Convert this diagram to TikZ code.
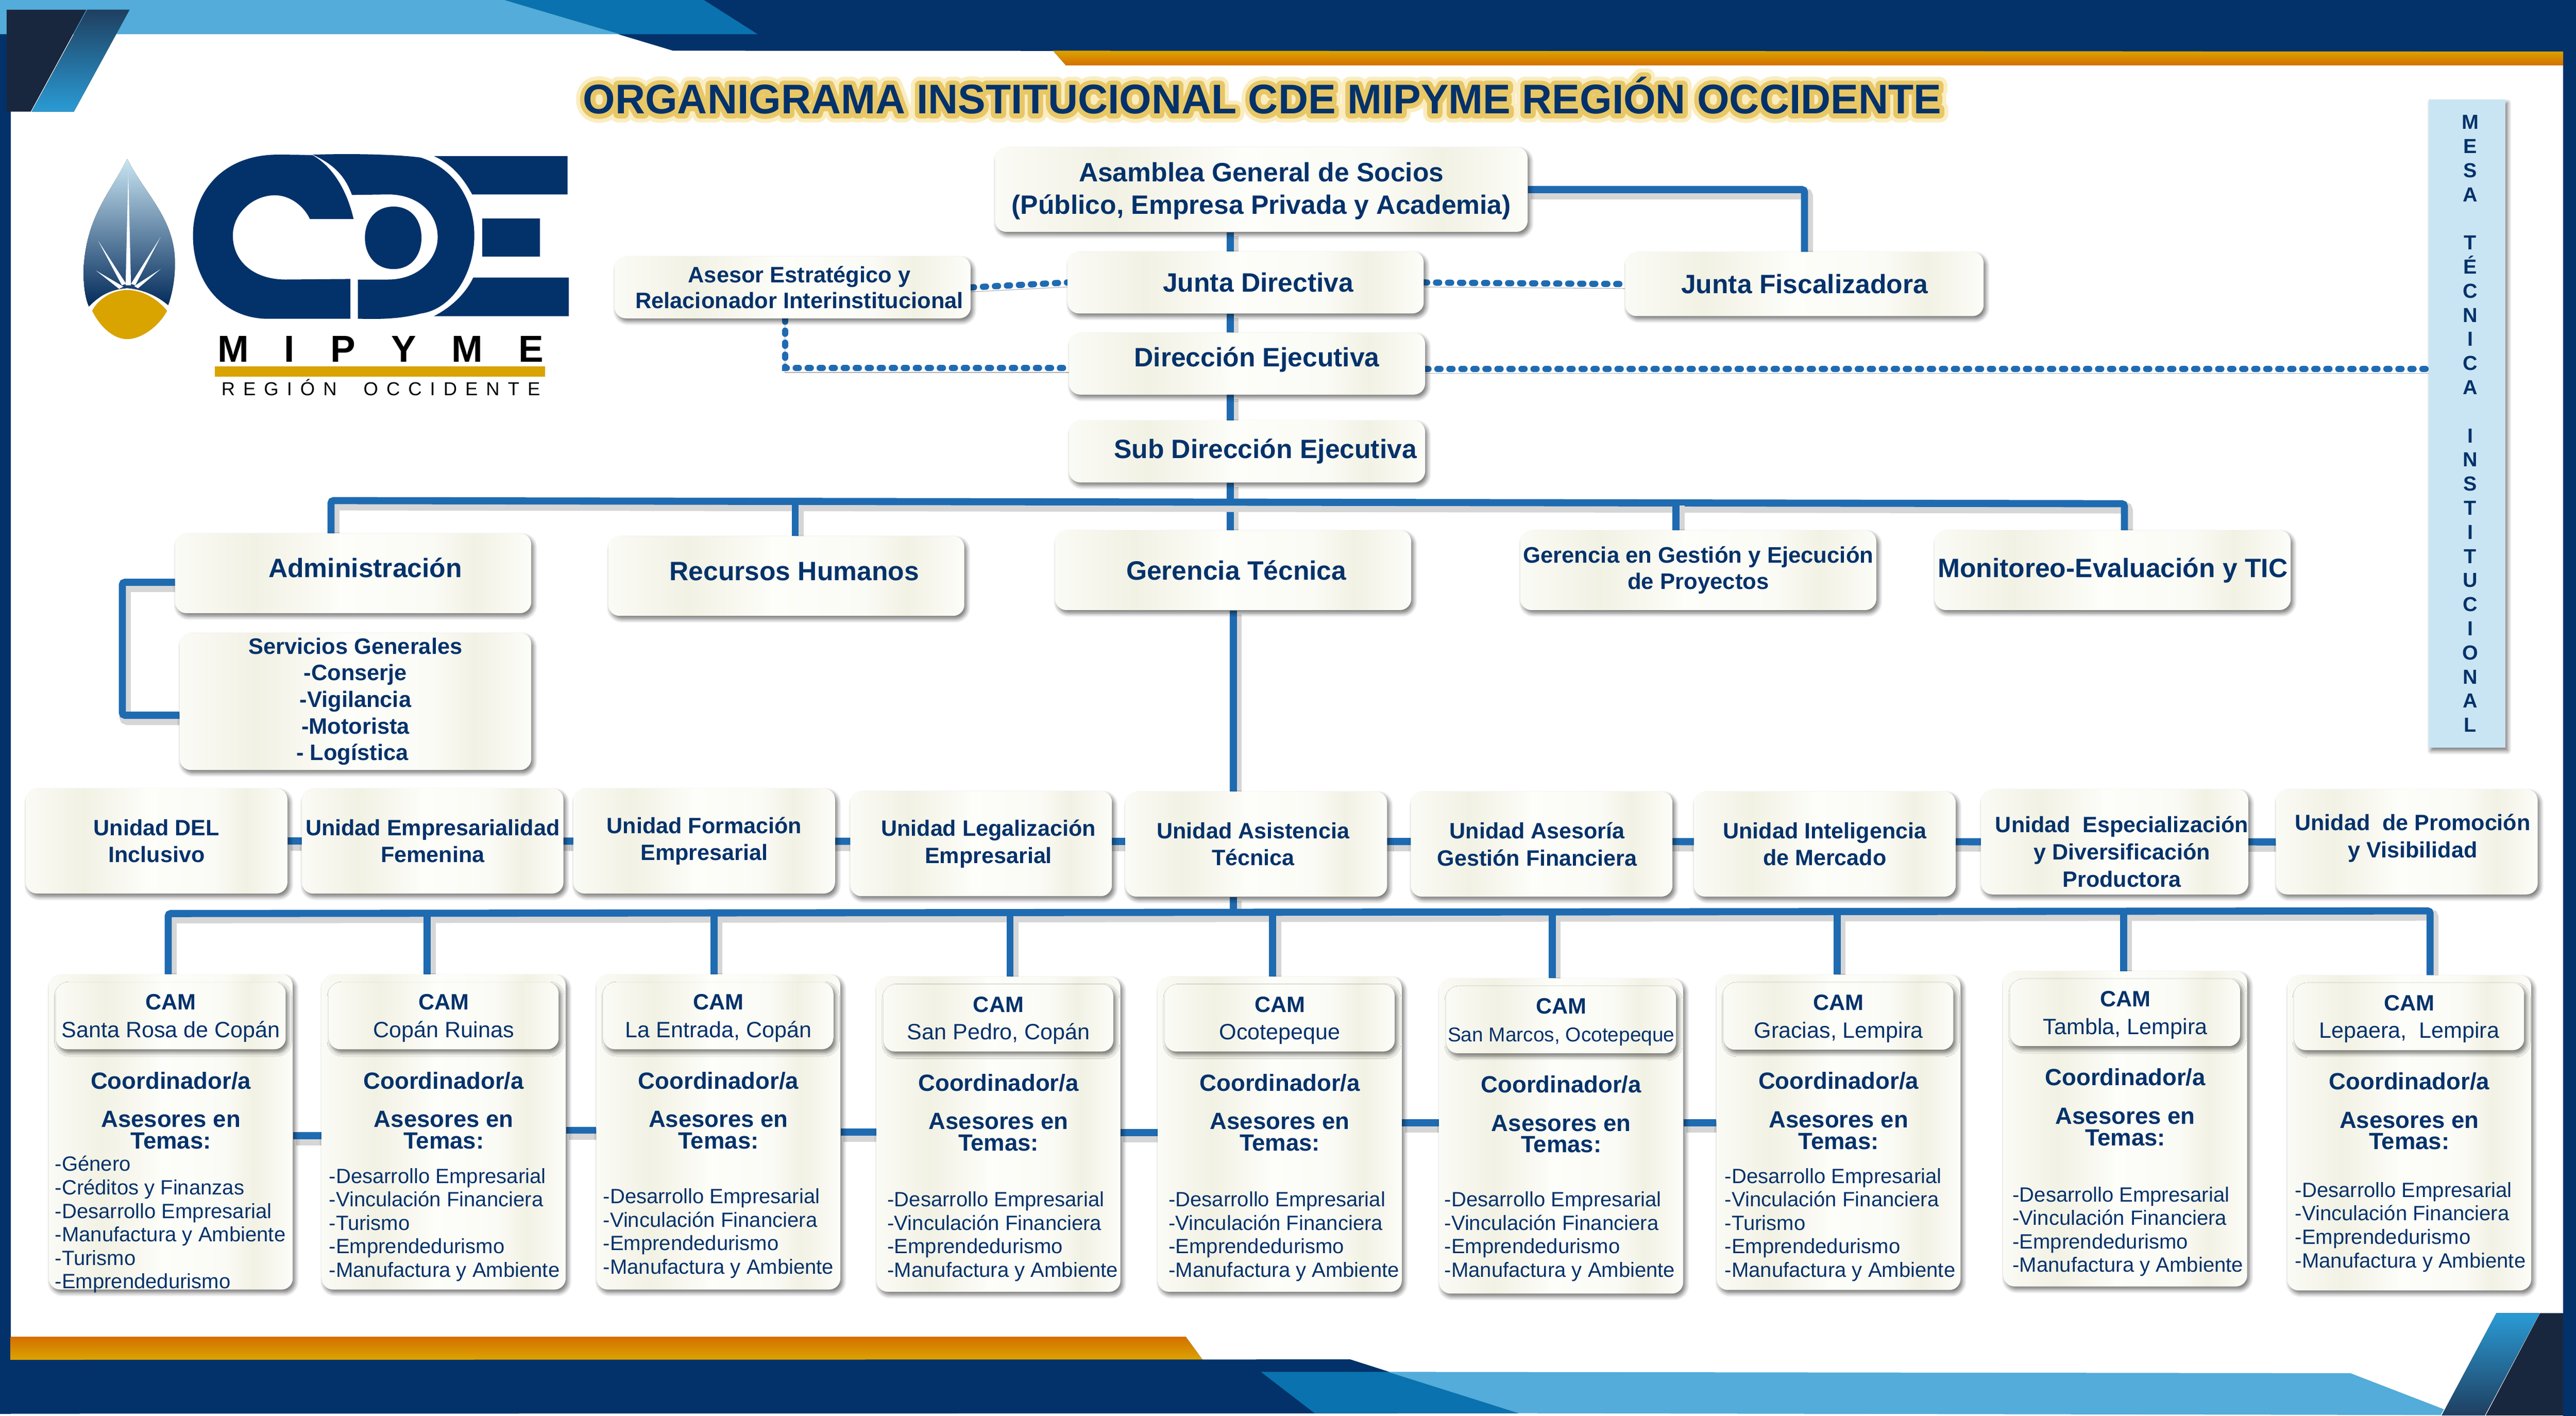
\documentclass[tikz,border=0pt]{standalone}
\usepackage{fontspec}
\setmainfont{Liberation Sans}
\usetikzlibrary{positioning,calc,backgrounds,shadows,shadows.blur}

\definecolor{navy}{HTML}{03326A}
\definecolor{linkblue}{HTML}{1F6BB1}
\definecolor{skyband}{HTML}{53ACD9}
\definecolor{midband}{HTML}{0A72AE}
\definecolor{cornerdark}{HTML}{19273E}
\definecolor{cornerlight}{HTML}{2A9BD5}
\definecolor{cornermid}{HTML}{1F3F60}
\definecolor{goldtop}{HTML}{DBA400}
\definecolor{goldlow}{HTML}{D46F00}
\definecolor{logogold}{HTML}{D9A300}
\definecolor{mesablue}{HTML}{C9E5F3}
\definecolor{boxa}{HTML}{FBFBF6}
\definecolor{boxb}{HTML}{F1F1E4}
\definecolor{boxc}{HTML}{FDFDF9}

\pgfdeclarehorizontalshading{boxshade}{100bp}{color(0bp)=(boxa); color(25bp)=(boxa); color(36bp)=(boxb); color(48bp)=(boxc); color(61bp)=(boxa); color(67bp)=(boxb); color(75bp)=(boxc); color(100bp)=(boxc)}

\tikzset{
  soft shadow/.style={blur shadow={shadow xshift=.05cm,shadow yshift=-.07cm,shadow opacity=55,shadow blur steps=8,shadow blur radius=.09cm}},
  org box/.style={rounded corners=.25cm,shading=boxshade,soft shadow,text=navy,align=center,inner sep=0pt,
    minimum width=8cm,minimum height=1.39cm,font=\fontsize{17}{20.5}\selectfont\bfseries},
  mid box/.style={org box,minimum height=1.79cm},
  unit box/.style={org box,minimum width=5.88cm,minimum height=2.36cm,font=\fontsize{14.2}{17.4}\selectfont\bfseries},
  cam box/.style={org box,minimum width=5.48cm,minimum height=7.08cm},
  cam head/.style={org box,minimum width=5.16cm,minimum height=1.5cm,text depth=0cm,font=\fontsize{14.2}{17.6}\selectfont},
  cam title/.style={text=navy,align=center,inner sep=0pt,font=\fontsize{15}{13.8}\selectfont\bfseries},
  cam list/.style={text=navy,align=left,inner sep=0pt,anchor=south west,font=\fontsize{13.2}{15}\selectfont},
  conn/.style={draw=linkblue,line width=.16cm,rounded corners=.06cm,
    preaction={draw=black!16,line width=.26cm,transform canvas={xshift=.06cm,yshift=-.09cm}},
    preaction={draw=black!40,transform canvas={xshift=.04cm,yshift=-.05cm}}},
  dot conn/.style={draw=linkblue,line width=.14cm,line cap=round,dash pattern=on .07cm off .2cm,
    preaction={draw=black!30,transform canvas={yshift=-.1cm}}}
}

\newcommand{\capsglow}[1]{\rlap{\special{pdf:code q 1 Tr 0.98 0.93 0.76 RG 11 w 1 j}#1\special{pdf:code Q}}\rlap{\special{pdf:code q 1 Tr 0.91 0.78 0.40 RG 6 w 1 j}#1\special{pdf:code Q}}#1}

\begin{document}
\begin{tikzpicture}[x=1cm,y=-1cm]
    \useasboundingbox (0,0) rectangle (57.9,31.82);

    % frame
    \fill[navy] (0,.22) rectangle (.24,31.77);
    \fill[navy] (57.61,0) rectangle (57.9,31.82);
    \fill[navy] (11.33,0) -- (57.9,0) -- (57.9,1.16) -- (15.13,1.14) -- cycle;
    \fill[midband] (11.33,0) -- (15.82,0) -- (17.03,.77) -- (13.94,.77) -- cycle;
    \fill[skyband] (0,0) -- (11.33,0) -- (13.94,.77) -- (0,.77) -- cycle;
    \fill[top color=goldtop,bottom color=goldlow] (23.67,1.14) -- (57.61,1.16) -- (57.61,1.47) -- (23.96,1.47) -- cycle;
    \fill[cornerdark] (.15,.22) -- (1.94,.22) -- (.69,2.51) -- (.15,2.51) -- cycle;
    \fill[top color=cornermid,bottom color=cornerlight] (1.96,.22) -- (2.91,.22) -- (1.66,2.51) -- (.71,2.51) -- cycle;
    \fill[top color=goldlow,bottom color=goldtop] (.24,30.04) -- (26.65,30.04) -- (27.03,30.56) -- (.24,30.56) -- cycle;
    \fill[navy] (0,30.56) -- (30.35,30.55) -- (34.14,31.76) -- (0,31.77) -- cycle;
    \fill[midband] (28.34,30.83) -- (31.19,30.83) -- (34.14,31.76) -- (29.55,31.76) -- cycle;
    \fill[skyband] (31.19,30.83) -- (52.83,30.86) -- (54.93,31.67) -- (54.86,31.8) -- (34.14,31.76) -- cycle;
    \fill[top color=cornerlight,bottom color=cornermid] (56.11,29.51) -- (57.08,29.51) -- (55.85,31.81) -- (54.88,31.81) -- cycle;
    \fill[cornerdark] (57.09,29.51) -- (57.61,29.51) -- (57.61,31.81) -- (55.87,31.81) -- cycle;

    % logo
    \begin{scope}[x=.01212cm,y=-.006378cm]
    \fill[top color=mesablue,bottom color=navy!85!black]
    (236,560) .. controls (205,680) and (160,760) .. (155,950) .. controls (155,1010) and (158,1050) .. (165,1080)
    .. controls (185,1040) and (205,1020) .. (236,1015) .. controls (265,1020) and (290,1040) .. (312,1075)
    .. controls (322,1020) and (326,960) .. (324,900) .. controls (318,760) and (268,680) .. (236,560) -- cycle;
    \fill[white] (238,610) -- (233,1005) -- (243,1005) -- cycle;
    \fill[white] (182,848) -- (226,1005) -- (234,1000) -- cycle;
    \fill[white] (298,835) -- (243,1000) -- (251,1005) -- cycle;
    \fill[white] (178,953) -- (221,1018) -- (229,1010) -- cycle;
    \fill[white] (298,948) -- (249,1008) -- (256,1016) -- cycle;
    \fill[logogold] (236,1022) .. controls (205,1022) and (180,1060) .. (171,1095) .. controls (185,1150) and (210,1195) .. (236,1195)
    .. controls (262,1195) and (295,1150) .. (310,1095) .. controls (295,1060) and (268,1022) .. (236,1022) -- cycle;
    \fill[navy] (580,547) .. controls (555,545) and (530,545) .. (510,545) .. controls (410,550) and (358,680) .. (358,830)
    .. controls (358,990) and (410,1115) .. (490,1123) -- (650,1123) -- (650,983) -- (530,985)
    .. controls (470,985) and (432,920) .. (432,830) .. controls (432,750) and (470,688) .. (510,688)
    .. controls (540,688) and (565,730) .. (575,772) -- (656,772) .. controls (645,680) and (620,590) .. (580,547) -- cycle;
    \fill[navy] (580,545) .. controls (660,540) and (740,545) .. (780,555) .. controls (840,590) and (880,700) .. (880,830)
    .. controls (880,960) and (840,1090) .. (780,1105) .. controls (740,1125) and (700,1125) .. (664,1123) -- (664,985) -- (720,985)
    .. controls (775,985) and (812,915) .. (812,835) .. controls (812,750) and (775,685) .. (720,685) -- (653,687)
    .. controls (640,620) and (620,580) .. (580,545) -- cycle;
    \fill[navy] (730,728) .. controls (695,728) and (677,780) .. (677,838) .. controls (677,895) and (695,948) .. (730,948)
    .. controls (765,948) and (782,895) .. (782,838) .. controls (782,780) and (765,728) .. (730,728) -- cycle;
    \fill[navy] (805,550) -- (1053,550) -- (1053,685) -- (876,685) .. controls (860,630) and (840,580) .. (805,550) -- cycle;
    \fill[navy] (895,770) rectangle (1002,905);
    \fill[navy] (878,978) -- (1055,978) -- (1055,1114) -- (805,1114) .. controls (840,1080) and (865,1030) .. (878,978) -- cycle;
    \fill[logogold] (399,1291) rectangle (1011,1327);
    \end{scope}
    \node[anchor=base west,inner sep=0pt,font=\fontsize{24}{24}\selectfont\bfseries\addfontfeature{LetterSpace=95}] (mipyme) at (4.88,8.13) {MIPYME};
    \node[anchor=base west,inner sep=0pt,font=\fontsize{12}{12}\selectfont\addfontfeature{LetterSpace=44}] (region) at (4.97,8.89) {REGIÓN\hspace{.3cm} OCCIDENTE};

    \node[text=navy,inner sep=0pt,font=\fontsize{26.5}{30}\selectfont\bfseries] (titulo) at (28.37,2.15) {\capsglow{ORGANIGRAMA INSTITUCIONAL CDE MIPYME REGIÓN OCCIDENTE}};

    % top of the chart
    \node[org box,minimum width=11.97cm,minimum height=1.9cm] (asamblea) at (28.35,4.26) {\rule{0pt}{.5cm}Asamblea General de Socios\\(Público, Empresa Privada y Academia)};
    \node[org box] (junta) [below = .43cm of asamblea,xshift=-.35cm] {\hspace*{.56cm}Junta Directiva};
    \node[org box,text depth=.3cm] (direccion) [below = .42cm of junta,xshift=.03cm] {\hspace*{.44cm}Dirección Ejecutiva};
    \node[org box] (subdir) [below = .57cm of direccion] {\hspace*{.82cm}Sub Dirección Ejecutiva};
    \node[org box,font=\fontsize{14.3}{16.7}\selectfont\bfseries] (asesor) [left = 2.17cm of junta,yshift=-.11cm] {\hspace*{.3cm}Asesor Estratégico y\\\hspace*{.3cm}Relacionador Interinstitucional};
    \node[org box,minimum width=8.05cm,minimum height=1.44cm] (fiscal) [right = 4.52cm of junta,yshift=-.035cm] {Junta Fiscalizadora};

    \node[soft shadow,fill=mesablue,text=navy,align=center,inner sep=0pt,minimum width=1.72cm,minimum height=14.56cm,font=\fontsize{13}{15.42}\selectfont\bfseries] (mesa) at (55.45,9.52)
    {\hspace*{.15cm}M\\\hspace*{.15cm}E\\\hspace*{.15cm}S\\\hspace*{.15cm}A\\~\\\hspace*{.15cm}T\\\hspace*{.15cm}É\\\hspace*{.15cm}C\\\hspace*{.15cm}N\\\hspace*{.15cm}I\\\hspace*{.15cm}C\\\hspace*{.15cm}A\\~\\\hspace*{.15cm}I\\\hspace*{.15cm}N\\\hspace*{.15cm}S\\\hspace*{.15cm}T\\\hspace*{.15cm}I\\\hspace*{.15cm}T\\\hspace*{.15cm}U\\\hspace*{.15cm}C\\\hspace*{.15cm}I\\\hspace*{.15cm}O\\\hspace*{.15cm}N\\\hspace*{.15cm}A\\\hspace*{.15cm}L};

    % second level
    \node[mid box,text depth=.25cm] (administracion) at (7.94,12.885) {\hspace*{.54cm}Administración};
    \node[mid box,text depth=.2cm] (rrhh) [right = 1.72cm of administracion,yshift=-.06cm] {\hspace*{.36cm}Recursos Humanos};
    \node[mid box] (gerencia) [right = 2.03cm of rrhh,yshift=.13cm] {\hspace*{.14cm}Gerencia Técnica};
    \node[mid box,font=\fontsize{14.4}{16.7}\selectfont\bfseries] (gestion) [right = 2.44cm of gerencia] {Gerencia en Gestión y Ejecución\\de Proyectos};
    \node[mid box] (monitoreo) [right = 1.30cm of gestion] {Monitoreo-Evaluación y TIC};
    \node[org box,minimum width=7.9cm,minimum height=3.08cm,font=\fontsize{14.3}{17}\selectfont\bfseries] (servicios) [below = .43cm of administracion,xshift=.05cm]
    {Servicios Generales\\-Conserje\\-Vigilancia\\-Motorista\\- Logística\hspace*{.14cm}};

    % units
    \node[unit box] (unidad1) at (3.52,18.90) {Unidad DEL\\Inclusivo};
    \node[unit box] (unidad2) [right = .31cm of unidad1] {Unidad Empresarialidad\\Femenina};
    \node[unit box] (unidad3) [right = .21cm of unidad2] {Unidad Formación\\Empresarial};
    \node[unit box] (unidad4) [right = .33cm of unidad3,yshift=-.06cm] {\hspace*{.33cm}Unidad Legalización\\\hspace*{.33cm}Empresarial};
    \node[unit box] (unidad5) [right = .29cm of unidad4,yshift=-.01cm] {Unidad Asistencia\hspace*{.14cm}\\Técnica\hspace*{.14cm}};
    \node[unit box] (unidad6) [right = .52cm of unidad5] {Unidad Asesoría\hspace*{.2cm}\\Gestión Financiera\hspace*{.2cm}};
    \node[unit box] (unidad7) [right = .47cm of unidad6] {Unidad Inteligencia\\de Mercado};
    \node[unit box] (unidad8) [right = .56cm of unidad7,yshift=.05cm] {\rule{0pt}{.8cm}\hspace*{.32cm}Unidad\ \ Especialización\\\hspace*{.32cm}y Diversificación\\\hspace*{.32cm}Productora};
    \node[unit box,text depth=.27cm] (unidad9) [right = .61cm of unidad8] {\hspace*{.26cm}Unidad\ \ de Promoción\\\hspace*{.26cm}y Visibilidad};

    % CAM
    \node[cam box] (cam1) at (3.84,25.44) {};
    \node[cam box] (cam2) [right = .64cm of cam1] {};
    \node[cam box] (cam3) [right = .68cm of cam2] {};
    \node[cam box] (cam4) [right = .80cm of cam3,yshift=-.05cm] {};
    \node[cam box] (cam5) [right = .83cm of cam4] {};
    \node[cam box] (cam6) [right = .83cm of cam5,yshift=-.04cm] {};
    \node[cam box] (cam7) [right = .74cm of cam6,yshift=.08cm] {};
    \node[cam box] (cam8) [right = .95cm of cam7,yshift=.08cm] {};
    \node[cam box] (cam9) [right = .89cm of cam8,yshift=-.09cm] {};

    \node[cam head] (head1) [below = .18cm of cam1.north] {\textbf{CAM}\\Santa Rosa de Copán};
    \node[cam head] (head2) [below = .18cm of cam2.north] {\textbf{CAM}\\Copán Ruinas};
    \node[cam head] (head3) [below = .18cm of cam3.north] {\textbf{CAM}\\La Entrada, Copán};
    \node[cam head] (head4) [below = .18cm of cam4.north] {\textbf{CAM}\\San Pedro, Copán};
    \node[cam head] (head5) [below = .18cm of cam5.north] {\textbf{CAM}\\Ocotepeque};
    \node[cam head,font=\fontsize{12.8}{17.6}\selectfont] (head6) [below = .18cm of cam6.north] {\textbf{\fontsize{14.2}{17.6}\selectfont CAM}\\San Marcos, Ocotepeque};
    \node[cam head] (head7) [below = .18cm of cam7.north] {\textbf{CAM}\\Gracias, Lempira};
    \node[cam head] (head8) [below = .18cm of cam8.north] {\textbf{CAM}\\Tambla, Lempira};
    \node[cam head] (head9) [below = .18cm of cam9.north] {\textbf{CAM}\\Lepaera,\ \ Lempira};

    \foreach \n in {1,...,9}{
      \node[cam title] (coord\n) at ([yshift=-2.39cm]cam\n.north) {Coordinador/a};
      \node[cam title] (temas\n) at ([yshift=-3.5cm]cam\n.north) {Asesores en\\Temas:};
    }

    \node[cam list] (lista1) at (1.23,29.06) {-Género\\-Créditos y Finanzas\\-Desarrollo Empresarial\\-Manufactura y Ambiente\\-Turismo\\-Emprendedurismo};
    \node[cam list] (lista2) at (7.39,28.80) {-Desarrollo Empresarial\\-Vinculación Financiera\\-Turismo\\-Emprendedurismo\\-Manufactura y Ambiente};
    \node[cam list] (lista3) at (13.55,28.73) {-Desarrollo Empresarial\\-Vinculación Financiera\\-Emprendedurismo\\-Manufactura y Ambiente};
    \node[cam list] (lista4) at (19.94,28.80) {-Desarrollo Empresarial\\-Vinculación Financiera\\-Emprendedurismo\\-Manufactura y Ambiente};
    \node[cam list] (lista5) at (26.26,28.80) {-Desarrollo Empresarial\\-Vinculación Financiera\\-Emprendedurismo\\-Manufactura y Ambiente};
    \node[cam list] (lista6) at (32.46,28.80) {-Desarrollo Empresarial\\-Vinculación Financiera\\-Emprendedurismo\\-Manufactura y Ambiente};
    \node[cam list] (lista7) at (38.76,28.80) {-Desarrollo Empresarial\\-Vinculación Financiera\\-Turismo\\-Emprendedurismo\\-Manufactura y Ambiente};
    \node[cam list] (lista8) at (45.23,28.69) {-Desarrollo Empresarial\\-Vinculación Financiera\\-Emprendedurismo\\-Manufactura y Ambiente};
    \node[cam list] (lista9) at (51.58,28.59) {-Desarrollo Empresarial\\-Vinculación Financiera\\-Emprendedurismo\\-Manufactura y Ambiente};

    \coordinate (eje) at (27.65,11.27);
    \coordinate (barizq) at (7.44,11.25);
    \coordinate (barder) at (47.75,11.32);
    \coordinate (brack) at (2.75,14.5);
    \coordinate (camizq) at (3.78,20.53);
    \coordinate (camder) at (54.62,20.47);

    \begin{scope}[on background layer]
    \path[draw,conn] (eje |- asamblea.south) -- (eje |- junta.north);
    \path[draw,conn] (eje |- junta.south) -- (eje |- direccion.north);
    \path[draw,conn] (eje |- direccion.south) -- (eje |- subdir.north);
    \path[draw,conn] (eje |- subdir.south) -- (eje |- gerencia.north);
    \path[draw,conn] (barizq |- administracion.north) -- (barizq) -- (barder) -- (barder |- monitoreo.north);
    \path[draw,conn] ([xshift=.2cm]rrhh.north) -- ([xshift=.2cm]rrhh.north |- eje);
    \path[draw,conn] ([xshift=-.5cm]gestion.north) -- ([xshift=-.5cm]gestion.north |- eje);
    \path[draw,conn] (asamblea.east) -| (fiscal.north);
    \path[draw,conn] ([yshift=-.2cm]administracion.west) -| (brack) |- ([yshift=-.31cm]servicios.west);
    \path[draw,conn] (gerencia.south) -- (gerencia.south |- unidad5.north);
    \path[draw,conn] (unidad1.east) -- (unidad9.west);
    \path[draw,conn] (gerencia.south |- unidad5.south) -- (gerencia.south |- camizq);
    \path[draw,conn] (camizq |- cam1.north) -- (camizq) -- (camder) -- (camder |- cam9.north);
    \foreach \n/\dx in {2/-.37,3/-.10,4/.26,5/-.16,6/-.20,7/-.03,8/-.04}
      \path[draw,conn] ([xshift=\dx cm]cam\n.north) -- ([xshift=\dx cm]cam\n.north |- camizq);
    \foreach \a/\b/\dy in {1/2/-.08,2/3/.04,3/4/0,4/5/.04,5/6/.26,6/7/.3}
      \path[draw,conn] ([yshift=\dy cm]cam\a.east) -- ([yshift=\dy cm]cam\a.east -| cam\b.west);

    \path[draw,dot conn] (asesor.east) -- (junta.west);
    \path[draw,dot conn] (junta.east) -- (fiscal.west);
    \path[draw,dot conn] ([xshift=-.17cm]asesor.south) |- ([yshift=-.1cm]direccion.west);
    \path[draw,dot conn] ([yshift=-.12cm]direccion.east) -- ([yshift=-.12cm]direccion.east -| mesa.west);
    \end{scope}
\end{tikzpicture}
\end{document}
